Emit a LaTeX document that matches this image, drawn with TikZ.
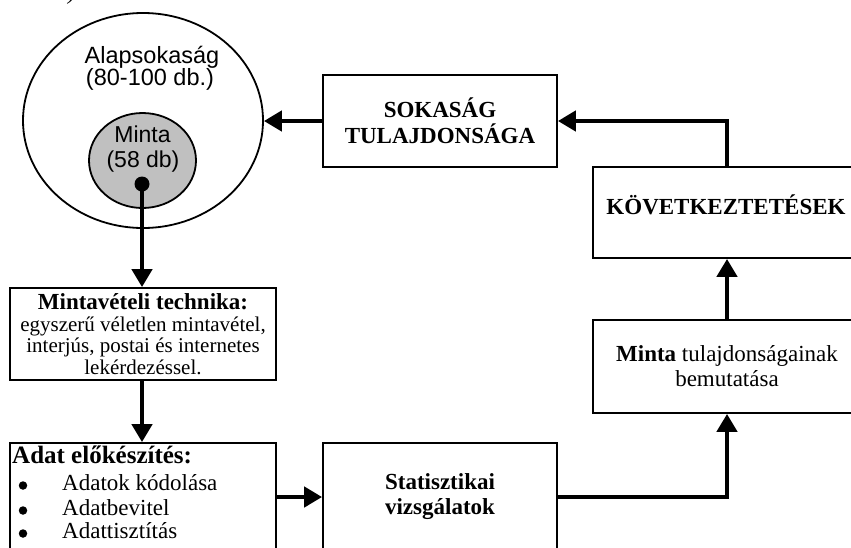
\documentclass[tikz,border=0pt]{standalone}
\usepackage{fontspec}
\setmainfont{Liberation Serif}
\newfontfamily\arialfont{Liberation Sans}
\usetikzlibrary{shapes.geometric,arrows.meta}
\definecolor{mintagray}{HTML}{C0C0C0}
\tikzset{
  box/.style={draw, rectangle, line width=1.8pt, inner sep=0pt, fill=white},
  ell/.style={draw, ellipse, line width=1.8pt, inner sep=0pt},
  conn/.style={line width=4.5pt, -{Triangle[length=18pt,width=20pt]}},
  txt/.style={inner sep=0pt, anchor=base},
  lbl/.style={inner sep=0pt, anchor=base west},
  bul/.style={circle, fill=black, inner sep=0pt, minimum size=8.5pt},
}
\begin{document}
\begin{tikzpicture}[x=1pt,y=-1pt]
\useasboundingbox (0,0) rectangle (851,547);

% clipped fragment at the top
\node[txt, font=\itshape\fontsize{23}{23}\selectfont] (frag) at (72,-1) {)};

% population ellipse
\node[ell, minimum width=240pt, minimum height=215pt] (big) at (143,120.5) {};
\node[txt, font=\arialfont\fontsize{23.5}{23.5}\selectfont] (bigA) at (152,63) {Alapsokaság};
\node[txt, font=\arialfont\fontsize{23.5}{23.5}\selectfont] (bigB) at (150,85) {(80-100 db.)};

% sample ellipse
\node[ell, fill=mintagray, minimum width=107pt, minimum height=95pt] (small) at (142.5,160.5) {};
\node[txt, font=\arialfont\fontsize{23}{23}\selectfont] (smA) at (142.5,142) {Minta};
\node[txt, font=\arialfont\fontsize{23}{23}\selectfont] (smB) at (143,167) {(58 db)};
\node[circle, fill=black, inner sep=0pt, minimum size=15pt] (dot) at (142,184) {};

% boxes
\node[box, minimum width=234pt, minimum height=92pt, align=center,
      font=\bfseries\fontsize{23}{26}\selectfont] (sok) at (440,121)
      {SOKASÁG\\TULAJDONSÁGA};

\node[box, minimum width=268pt, minimum height=91pt] (kov) at (727,212.5) {};
\node[txt, font=\bfseries\fontsize{23}{23}\selectfont] (kovtxt) at (726,214) {KÖVETKEZTETÉSEK};

\node[box, minimum width=268pt, minimum height=93pt, align=center,
      font=\fontsize{23}{25}\selectfont] (minta) at (727,366.5)
      {\textbf{Minta} tulajdonságainak\\bemutatása};

\node[box, minimum width=234pt, minimum height=108pt, align=center,
      font=\bfseries\fontsize{23}{25}\selectfont] (stat) at (440,497)
      {Statisztikai\\vizsgálatok};

\node[box, minimum width=266pt, minimum height=92pt, align=center,
      font=\fontsize{21}{21.5}\selectfont] (mint) at (143,334)
      {{\bfseries\fontsize{23}{21.5}\selectfont Mintavételi technika:}\\
       egyszerű véletlen mintavétel,\\
       interjús, postai és internetes\\
       lekérdezéssel.};

\node[box, minimum width=266pt, minimum height=110pt] (adat) at (143,498) {};
\node[lbl, font=\bfseries\fontsize{25}{25}\selectfont] (adath) at (12,463) {Adat előkészítés:};
\node[bul] (bu1) at (23,485.5) {};
\node[bul] (bu2) at (23,510.5) {};
\node[bul] (bu3) at (23,533.5) {};
\node[lbl, font=\fontsize{23}{23}\selectfont] (ad1) at (62,490) {Adatok kódolása};
\node[lbl, font=\fontsize{23}{23}\selectfont] (ad2) at (62,515) {Adatbevitel};
\node[lbl, font=\fontsize{23}{23}\selectfont] (ad3) at (62,538) {Adattisztítás};

% connectors
\draw[conn] (dot.center) -- (dot.center |- mint.north);
\draw[conn] (mint.south -| dot) -- (adat.north -| dot);
\draw[conn] (adat.east |- stat.west) -- (stat.west);
\draw[conn] (stat.east) -| (minta.south);
\draw[conn] (minta.north) -- (kov.south);
\draw[conn] (kov.north) |- (sok.east);
\draw[conn] (sok.west) -- (sok.west -| big.east);
\end{tikzpicture}
\end{document}
